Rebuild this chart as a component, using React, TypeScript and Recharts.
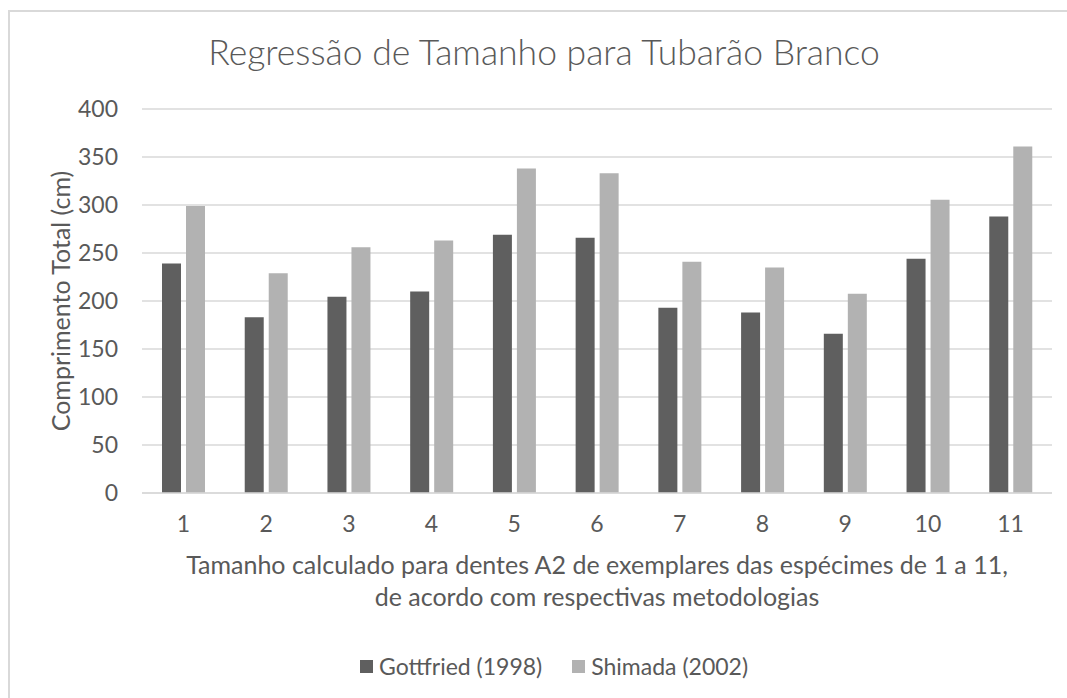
import { BarChart, Bar, XAxis, YAxis, CartesianGrid } from "recharts";

const specimens = ["1", "2", "3", "4", "5", "6", "7", "8", "9", "10", "11"];
const gottfried = [239, 183, 204.5, 210, 269, 266, 193, 188, 166, 244, 288];
const shimada = [299, 229, 256, 263, 338, 333, 241, 235, 207.5, 305.5, 361];
const yTicks = [0, 50, 100, 150, 200, 250, 300, 350, 400];

const series = [
  { key: "gottfried", name: "Gottfried (1998)", color: "#5f5f5f" },
  { key: "shimada", name: "Shimada (2002)", color: "#b2b2b2" },
];

const data = specimens.map((s, i) => ({
  specimen: s,
  gottfried: gottfried[i],
  shimada: shimada[i],
}));

const FONT = "Lato, 'Open Sans', sans-serif";
const TEXT = "#595959";

export default function App() {
  return (
    <div
      style={{
        position: "absolute",
        left: 0,
        top: 0,
        width: 1067,
        height: 698,
        background: "#fff",
        overflow: "hidden",
        fontFamily: FONT,
        color: TEXT,
      }}
    >
      {/* chart frame, only top and left edges show */}
      <div
        style={{
          position: "absolute",
          left: 8,
          top: 10,
          width: 1100,
          height: 720,
          borderTop: "2px solid #d9d9d9",
          borderLeft: "2px solid #d9d9d9",
        }}
      />

      <div
        style={{
          position: "absolute",
          left: 0,
          width: 1088,
          top: 31,
          textAlign: "center",
          fontSize: 35.5,
          fontWeight: 300,
          lineHeight: "42px",
          whiteSpace: "nowrap",
        }}
      >
        Regressão de Tamanho para Tubarão Branco
      </div>

      <div
        style={{
          position: "absolute",
          left: 60,
          top: 301,
          transform: "translate(-50%, -50%) rotate(-90deg)",
          whiteSpace: "nowrap",
          fontSize: 25,
        }}
      >
        Comprimento Total (cm)
      </div>

      <div
        style={{
          position: "absolute",
          left: 142,
          width: 910,
          top: 548,
          textAlign: "center",
          fontSize: 25,
          lineHeight: "32px",
        }}
      >
        Tamanho calculado para dentes A2 de exemplares das espécimes de 1 a 11,
        <br />
        de acordo com respectivas metodologias
      </div>

      <div style={{ position: "absolute", left: 0, top: 0 }}>
        <BarChart
          width={1067}
          height={698}
          data={data}
          margin={{ top: 109, right: 15, left: 0, bottom: 175 }}
          barGap={5}
          barSize={19}
        >
          <CartesianGrid vertical={false} stroke="#d9d9d9" strokeWidth={1.5} />
          <XAxis
            dataKey="specimen"
            height={30}
            tickLine={false}
            tickSize={0}
            tickMargin={23}
            axisLine={{ stroke: "#d9d9d9", strokeWidth: 1.5 }}
            tick={{ fontSize: 23, fill: TEXT, fontFamily: FONT }}
          />
          <YAxis
            width={142}
            domain={[0, 400]}
            ticks={yTicks}
            interval={0}
            axisLine={false}
            tickLine={false}
            tickSize={0}
            tickMargin={24}
            tick={{ fontSize: 23, fill: TEXT, fontFamily: FONT }}
          />
          {series.map((s) => (
            <Bar
              key={s.key}
              dataKey={s.key}
              name={s.name}
              fill={s.color}
              isAnimationActive={false}
            />
          ))}
        </BarChart>
      </div>

      {/* legend */}
      <div
        style={{
          position: "absolute",
          left: 360,
          top: 650,
          display: "flex",
          alignItems: "center",
          fontSize: 23,
          lineHeight: "32px",
          whiteSpace: "nowrap",
        }}
      >
        {series.map((s, i) => (
          <div
            key={s.key}
            style={{ display: "flex", alignItems: "center", marginRight: i === 0 ? 30 : 0 }}
          >
            <span
              style={{
                display: "inline-block",
                width: 13,
                height: 13,
                background: s.color,
                marginRight: 6,
              }}
            />
            {s.name}
          </div>
        ))}
      </div>
    </div>
  );
}
